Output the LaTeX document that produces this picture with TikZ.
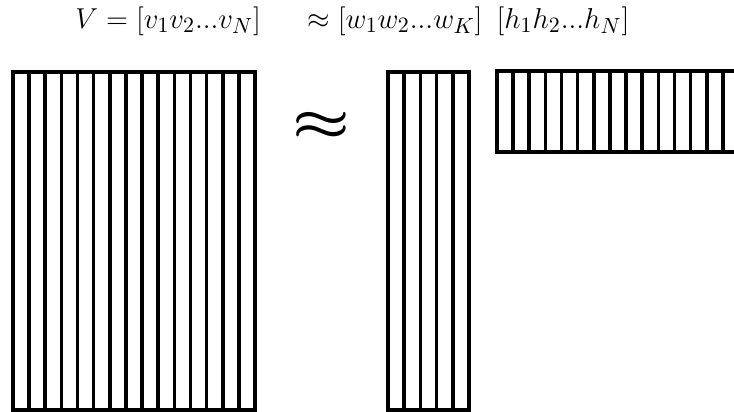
\documentclass[tikz,border=0pt]{standalone}
\usepackage{amsmath}
\usetikzlibrary{positioning}
\begin{document}
\begin{tikzpicture}[
  x=0.5pt, y=-0.5pt,
  bar/.style={draw, line width=1.8pt},
  every node/.style={inner sep=0pt},
  eqtext/.style={font=\fontsize{15.4}{18}\selectfont},
]
\useasboundingbox (0,0) rectangle (734,412);

% formula on top
\node[eqtext, anchor=base west] (lhs) at (75,28) {$V = [v_1v_2...v_N]$};
\node[eqtext, anchor=base west] (rhsw) at (307,28) {$\approx [w_1w_2...w_K]$};
\node[eqtext, anchor=base] (rhsh) at (563,28) {$[h_1h_2...h_N]$};

% V matrix, 15 columns
\draw[bar] (13,72) rectangle (255,410);
\foreach \i in {1,...,14}
  \draw[bar] ({13+\i*242/15},72) -- ++(0,338);

\node[font=\fontsize{44}{44}\selectfont, xscale=1.3] (approx) at (321.5,126)
  {$\boldsymbol{\approx}$};

% W matrix, 5 columns
\draw[bar] (388,72) rectangle (469,410);
\foreach \i in {1,...,4}
  \draw[bar] ({388+\i*81/5},72) -- ++(0,338);

% H matrix, 15 columns (runs off the right edge)
\draw[bar] (497,71) rectangle (739,152);
\foreach \i in {1,...,14}
  \draw[bar] ({497+\i*242/15},71) -- ++(0,81);
\end{tikzpicture}
\end{document}
